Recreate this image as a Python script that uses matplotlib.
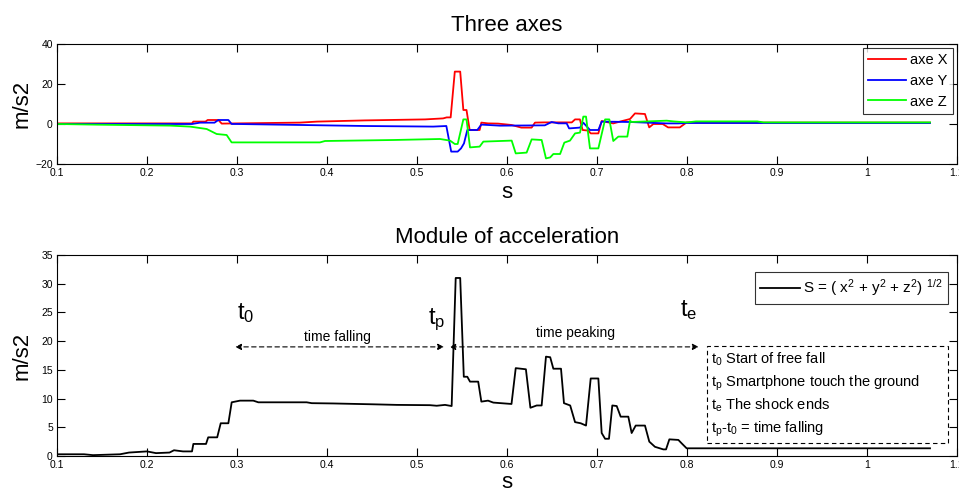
import numpy as np
import matplotlib
matplotlib.use("Agg")
import matplotlib.pyplot as plt
from matplotlib.patches import Rectangle

plt.rcParams['font.family'] = ['Liberation Sans', 'DejaVu Sans']
plt.rcParams['mathtext.fontset'] = 'custom'
plt.rcParams['mathtext.rm'] = 'Liberation Sans'
plt.rcParams['mathtext.it'] = 'Liberation Sans'

# --- axe X (m/s2) ---
tx = [0.1, 0.25, 0.2515, 0.265, 0.2674, 0.2793, 0.283, 0.30, 0.37, 0.389, 0.442, 0.509,
      0.529, 0.533, 0.5374, 0.542, 0.548, 0.5515, 0.555, 0.5585, 0.5696, 0.5715, 0.579,
      0.59, 0.6052, 0.6159, 0.6274, 0.6311, 0.642, 0.6626, 0.672, 0.6756, 0.681, 0.684,
      0.6904, 0.693, 0.7015, 0.7052, 0.7181, 0.7255, 0.7367, 0.7422, 0.7533, 0.758,
      0.7626, 0.773, 0.779, 0.792, 0.7996, 0.82, 1.07]
ax_x = [0.3, 0.3, 1.2, 1.2, 2.0, 2.0, 0.2, 0.3, 0.7, 1.2, 1.8, 2.3,
        2.8, 3.3, 3.3, 26.2, 26.2, 7.0, 7.0, -3.0, -3.0, 0.7, 0.3,
        0.2, -0.5, -1.8, -1.8, 0.7, 0.8, 0.8, 0.8, 2.3, 2.3, -3.0,
        -3.3, -4.7, -4.7, 1.5, 0.3, 1.2, 2.5, 5.3, 5.0, -1.7,
        0.0, 0.0, -1.7, -1.7, 0.8, 0.7, 0.7]

# --- axe Y ---
ty = [0.1, 0.25, 0.2589, 0.275, 0.2793, 0.2904, 0.294, 0.3, 0.372, 0.442, 0.518, 0.5326,
      0.538, 0.5452, 0.5489, 0.5522, 0.5559, 0.567, 0.5715, 0.5922, 0.642, 0.6496, 0.657,
      0.6663, 0.669, 0.6811, 0.6848, 0.6922, 0.7015, 0.7052, 0.7367, 0.777, 0.79, 0.80,
      0.82, 1.07]
ax_y = [0.0, 0.0, 0.67, 0.67, 2.0, 2.0, 0.0, 0.0, -0.5, -1.0, -1.3, -1.0,
        -13.8, -13.8, -12.2, -9.7, -3.0, -3.0, -0.3, -0.83, -0.67, 1.0, 0.33,
        0.33, -2.2, -1.8, 0.67, -3.0, -3.0, 1.2, 1.0, 0.3, 0.3, 0.5,
        0.5, 0.5]

# --- axe Z ---
tz = [0.1, 0.144, 0.2256, 0.2478, 0.2663, 0.2774, 0.2885, 0.294, 0.3922, 0.3978, 0.4737,
      0.5256, 0.5367, 0.542, 0.5452, 0.5515, 0.555, 0.5589, 0.5696, 0.5737, 0.6052, 0.6097,
      0.6218, 0.6274, 0.6385, 0.6433, 0.648, 0.6515, 0.659, 0.6637, 0.67, 0.6756, 0.6811,
      0.6848, 0.6878, 0.6922, 0.7015, 0.709, 0.7137, 0.7181, 0.7237, 0.7337, 0.7367,
      0.7385, 0.7774, 0.785, 0.80, 0.81, 0.878, 0.885, 1.07]
ax_z = [0.0, -0.33, -0.8, -1.3, -2.5, -5.0, -5.5, -9.2, -9.2, -8.5, -8.0,
        -7.5, -8.3, -10.0, -10.0, 2.3, 2.3, -11.7, -11.3, -8.8, -8.3, -14.7,
        -14.3, -7.7, -8.0, -17.2, -16.7, -15.0, -15.0, -9.3, -8.3, -4.7, -4.3,
        3.7, 3.7, -12.2, -12.2, 2.3, 2.3, -8.5, -6.3, -6.3, 1.67,
        1.0, 1.67, 1.3, 0.8, 1.3, 1.3, 0.8, 0.8]

# --- module S = sqrt(x2+y2+z2) ---
ts = [0.1, 0.13, 0.14, 0.17, 0.18, 0.2, 0.21, 0.225, 0.23, 0.24, 0.25, 0.2515, 0.2656,
      0.268, 0.278, 0.2819, 0.2904, 0.2941, 0.3033, 0.3181, 0.3237, 0.3774, 0.383, 0.407,
      0.4515, 0.4774, 0.5144, 0.5219, 0.5311, 0.5385, 0.543, 0.548, 0.552, 0.5559, 0.5589,
      0.568, 0.5715, 0.5789, 0.5848, 0.605, 0.6097, 0.621, 0.626, 0.633, 0.6385, 0.6433,
      0.648, 0.6515, 0.66, 0.6633, 0.6702, 0.6756, 0.6819, 0.6878, 0.693, 0.7015, 0.7052,
      0.709, 0.7133, 0.717, 0.7219, 0.7263, 0.7348, 0.7385, 0.743, 0.7533, 0.7581, 0.7644,
      0.7737, 0.7767, 0.7804, 0.7904, 0.7941, 0.7996, 1.07]
mod_s = [0.3, 0.3, 0.15, 0.3, 0.6, 0.8, 0.5, 0.6, 1.0, 0.8, 0.8, 2.1, 2.1,
         3.25, 3.25, 5.7, 5.7, 9.35, 9.64, 9.64, 9.35, 9.35, 9.2, 9.15,
         9.0, 8.9, 8.85, 8.75, 8.9, 8.7, 31.0, 31.0, 13.8, 13.8, 12.95,
         12.95, 9.47, 9.64, 9.3, 9.06, 15.3, 15.1, 8.4, 8.8, 8.8, 17.3,
         17.2, 15.2, 15.2, 9.2, 8.8, 5.9, 5.7, 5.3, 13.5, 13.5, 4.0,
         3.0, 3.0, 8.8, 8.7, 6.85, 6.85, 4.0, 5.3, 5.3, 2.5, 1.6,
         1.15, 1.15, 2.9, 2.8, 2.2, 1.34, 1.34]

xticks = [0.1, 0.2, 0.3, 0.4, 0.5, 0.6, 0.7, 0.8, 0.9, 1.0, 1.1]
xticklabels = ['0.1', '0.2', '0.3', '0.4', '0.5', '0.6', '0.7', '0.8', '0.9', '1', '1.1']

W, H = 959, 492
fig = plt.figure(figsize=(W / 100, H / 100), dpi=100)
ax1 = fig.add_axes([57 / W, 1 - 164 / H, 900 / W, 120 / H])
ax2 = fig.add_axes([57 / W, 1 - 456 / H, 900 / W, 201 / H])

def style(ax):  # look matlab
    ax.tick_params(direction='in', length=6, width=0.8, top=True, right=True,
                   labelsize=7.5, pad=3)
    for sp in ax.spines.values():
        sp.set_linewidth(0.8)
    ax.set_xlim(0.1, 1.1)
    ax.set_xticks(xticks)
    ax.set_xticklabels(xticklabels)

# Graphe 1 : trois axes
ax1.plot(tx, ax_x, color='#ff0000', lw=1.3, label='axe X')
ax1.plot(ty, ax_y, color='#0000ff', lw=1.3, label='axe Y')
ax1.plot(tz, ax_z, color='#00ff00', lw=1.3, label='axe Z')
style(ax1)
ax1.set_ylim(-20, 40)
ax1.set_yticks([-20, 0, 20, 40])
ax1.set_title('Three axes', fontsize=16, pad=9)
ax1.set_ylabel('m/s2', fontsize=16)
ax1.yaxis.set_label_coords(-0.027, 0.5)
ax1.set_xlabel('s', fontsize=16, labelpad=3)
leg = ax1.legend(loc='upper right', fontsize=10.5, fancybox=False, edgecolor='k',
                 handlelength=2.6, labelspacing=0.45, borderaxespad=0.3,
                 borderpad=0.35, handletextpad=0.3)
leg.get_frame().set_linewidth(0.8)

# Graphe 2 : module
ax2.plot(ts, mod_s, color='k', lw=1.3, label=r'S = ( x$^2$ + y$^2$ + z$^2$) $^{1/2}$')
style(ax2)
ax2.set_ylim(0, 35)
ax2.set_yticks([0, 5, 10, 15, 20, 25, 30, 35])
ax2.set_title('Module of acceleration', fontsize=16, pad=9)
ax2.set_ylabel('m/s2', fontsize=16)
ax2.yaxis.set_label_coords(-0.027, 0.5)
ax2.set_xlabel('s', fontsize=16, labelpad=1)
leg2 = ax2.legend(loc='upper right', bbox_to_anchor=(0.99, 0.915), fontsize=11,
                  fancybox=False, edgecolor='k', handlelength=2.6, borderaxespad=0,
                  borderpad=0.35, handletextpad=0.2)
leg2.get_frame().set_linewidth(0.8)

# annotations
ax2.text(0.3, 23.8, r'$\mathregular{t_0}$', fontsize=17)
ax2.text(0.5126, 23.0, r'$\mathregular{t_p}$', fontsize=17)
ax2.text(0.792, 24.4, r'$\mathregular{t_e}$', fontsize=17)
arr = dict(arrowstyle='<|-|>', linestyle=(0, (4, 3)), color='k', lw=0.8,
           shrinkA=0, shrinkB=0, mutation_scale=9)
ax2.annotate('', xy=(0.298, 19), xytext=(0.530, 19), arrowprops=arr)
ax2.annotate('', xy=(0.536, 19), xytext=(0.813, 19), arrowprops=arr)
ax2.text(0.412, 20.8, 'time falling', fontsize=10, ha='center', va='center')
ax2.text(0.676, 21.4, 'time peaking', fontsize=10, ha='center', va='center')

ax2.add_patch(Rectangle((0.822, 2.3), 1.09 - 0.822, 19.2 - 2.3, fill=False,
                        ec='k', lw=0.8, ls=(0, (4, 3))))
lignes = [r'$\mathregular{t_0}$ Start of free fall',
          r'$\mathregular{t_p}$ Smartphone touch the ground',
          r'$\mathregular{t_e}$ The shock ends',
          r'$\mathregular{t_p}$-$\mathregular{t_0}$ = time falling']
for k, txt in enumerate(lignes):
    ax2.text(0.827, 16.15 - k * 4.0, txt, fontsize=10.5, va='baseline')

fig.savefig('out.png', dpi=100)
